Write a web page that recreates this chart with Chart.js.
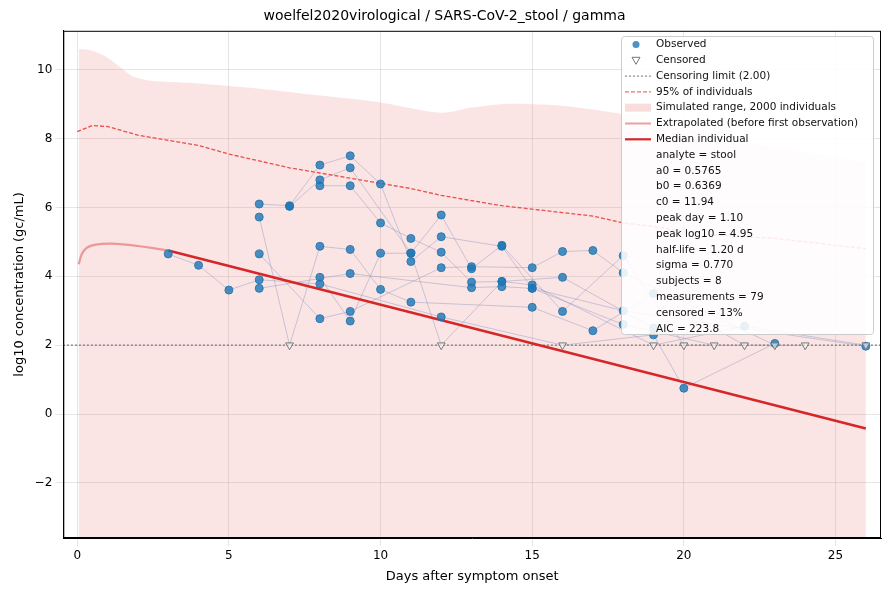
<!DOCTYPE html>
<html><head><meta charset="utf-8">
<script src="https://cdn.jsdelivr.net/npm/chart.js@4"></script>
<style>html,body{margin:0;padding:0;background:#fff}#w{width:889px;height:590px}</style>
</head><body><div id="w"><canvas id="c"></canvas></div>
<script>
const subjects = [
 [[3,4.65],[4,4.32],[5,3.6],[6,3.9],[8,3.78],[12,2.82],[16,2],[19,2.3],[20,0.75],[23,2.05]],
 [[6,6.1],[7,6.05],[8,7.23],[9,7.5],[10,6.68],[11,4.43],[12,5.15],[14,4.87],[15,3.65],[18,2.6],[21,2]],
 [[6,5.72],[7,2],[8,4.87],[9,4.78],[10,3.62],[11,3.25],[15,3.1],[17,2.42],[19,3.5],[22,2]],
 [[7,6.03],[8,6.8],[9,7.15],[11,4.67],[12,5.78],[13,4.22],[14,4.9],[16,2.98],[18,4.6],[20,2],[24,2]],
 [[8,6.63],[9,6.63],[10,5.55],[11,5.1],[12,4.7],[13,3.83],[14,3.85],[15,3.75],[19,2],[22,2.55],[26,2]],
 [[6,4.65],[8,2.77],[9,2.98],[12,4.25],[13,4.28],[15,4.25],[16,4.72],[17,4.75],[18,4.1],[23,2]],
 [[6,3.65],[9,4.08],[13,3.67],[14,3.7],[15,3.65],[18,3.0],[26,1.97]],
 [[8,3.97],[9,2.7],[10,4.67],[11,4.67],[12,2],[14,3.85],[16,3.97],[19,2.5]]
];
const censoredDays = [7,12,16,19,20,21,22,23,24,26];
const censorLimit = 2.0;
const p95 = [[0,8.2],[0.5,8.38],[1,8.35],[2,8.1],[3,7.95],[4,7.8],[5,7.55],[6,7.35],[7,7.15],[8,7.0],[9,6.85],[10,6.7],[11,6.55],[12,6.35],[13,6.2],[14,6.05],[15,5.95],[16,5.85],[17,5.75],[18,5.55],[19,5.45],[20,5.3],[21,5.2],[22,5.15],[23,5.1],[24,5.0],[25,4.9],[26,4.8]];
const simUpper = [[0.05,10.6],[0.5,10.55],[1,10.35],[2,9.75],[4,9.6],[6,9.45],[8,9.25],[10,9.05],[12,8.75],[13,8.9],[14,9.0],[15,9.0],[16,8.95],[18,8.7],[20,8.3],[22,7.9],[24,7.6],[26,7.3]];
const extrap = [[0.05,4.35],[0.15,4.65],[0.3,4.82],[0.5,4.9],[0.8,4.94],[1.1,4.95],[1.5,4.93],[2,4.88],[2.5,4.82],[3,4.75]];
const median = [[3,4.75],[26,-0.42]];
const legendStats = ["analyte = stool","a0 = 0.5765","b0 = 0.6369","c0 = 11.94","peak day = 1.10","peak log10 = 4.95","half-life = 1.20 d","sigma = 0.770","subjects = 8","measurements = 79","censored = 13%","AIC = 223.8"];

const pt = a => a.map(([x,y])=>({x,y}));
const ds = [];
ds.push({data:pt(simUpper),borderWidth:0,pointRadius:0,backgroundColor:'rgba(230,120,120,0.2)',fill:'start',tension:0.3,order:10});
subjects.forEach(s=>ds.push({data:pt(s),borderColor:'rgba(110,130,180,0.35)',borderWidth:1,pointRadius:0,fill:false,order:8}));
ds.push({data:[{x:-1,y:censorLimit},{x:27,y:censorLimit}],borderColor:'#777',borderWidth:1.3,borderDash:[2,2],pointRadius:0,order:7});
ds.push({data:pt(p95),borderColor:'#e8504a',borderWidth:1.3,borderDash:[4,2],pointRadius:0,order:6});
ds.push({data:pt(extrap),borderColor:'rgba(230,120,120,0.7)',borderWidth:2.2,pointRadius:0,tension:0.4,order:5});
ds.push({data:pt(median),borderColor:'#d62728',borderWidth:2.5,pointRadius:0,order:4});
const obs=[];subjects.forEach(s=>s.forEach(([x,y])=>{ if(!(y===censorLimit&&censoredDays.includes(x))) obs.push({x,y});}));
ds.push({type:'scatter',data:obs,backgroundColor:'rgba(31,119,180,0.8)',borderColor:'rgba(31,119,180,0.9)',pointRadius:4,showLine:false,order:2});
ds.push({type:'scatter',data:censoredDays.map(d=>({x:d,y:censorLimit})),pointStyle:'triangle',rotation:180,backgroundColor:'rgba(255,255,255,0.6)',borderColor:'#777',borderWidth:1,pointRadius:4.5,showLine:false,order:1});

const legendPlugin={id:'lg',afterDraw(ch){
 const c=ch.ctx,a=ch.chartArea;
 c.save();c.strokeStyle='#000';c.lineWidth=1;c.strokeRect(a.left+0.5,a.top+0.5,a.right-a.left-1,a.bottom-a.top-1);
 const x=621,y=36,w=252,h=298;
 c.fillStyle='rgba(255,255,255,0.88)';c.strokeStyle='#ccc';
 c.beginPath();c.roundRect(x+0.5,y+0.5,w,h,3);c.fill();c.stroke();
 c.font='10.5px "DejaVu Sans"';c.textBaseline='middle';c.fillStyle='#111';
 const rows=["Observed","Censored","Censoring limit (2.00)","95% of individuals","Simulated range, 2000 individuals","Extrapolated (before first observation)","Median individual"].concat(legendStats);
 rows.forEach((t,i)=>{const yy=y+8.5+i*15.8;const mx=x+15;
  if(i===0){c.fillStyle='rgba(31,119,180,0.8)';c.beginPath();c.arc(mx,yy,3.5,0,7);c.fill();}
  else if(i===1){c.strokeStyle='#777';c.beginPath();c.moveTo(mx-4,yy-3);c.lineTo(mx+4,yy-3);c.lineTo(mx,yy+4);c.closePath();c.stroke();}
  else if(i===2){c.strokeStyle='#777';c.setLineDash([2,2]);c.beginPath();c.moveTo(x+4,yy);c.lineTo(x+30,yy);c.stroke();c.setLineDash([]);}
  else if(i===3){c.strokeStyle='#e8504a';c.setLineDash([4,2]);c.beginPath();c.moveTo(x+4,yy);c.lineTo(x+30,yy);c.stroke();c.setLineDash([]);}
  else if(i===4){c.fillStyle='rgba(230,120,120,0.25)';c.fillRect(x+4,yy-4,26,8);}
  else if(i===5){c.strokeStyle='rgba(230,120,120,0.7)';c.lineWidth=2;c.beginPath();c.moveTo(x+4,yy);c.lineTo(x+30,yy);c.stroke();c.lineWidth=1;}
  else if(i===6){c.strokeStyle='#d62728';c.lineWidth=2.2;c.beginPath();c.moveTo(x+4,yy);c.lineTo(x+30,yy);c.stroke();c.lineWidth=1;}
  c.fillStyle='#111';c.fillText(t,x+35,yy);});
 c.restore();}};

new Chart(document.getElementById('c'),{type:'line',data:{datasets:ds},plugins:[legendPlugin],
options:{responsive:true,maintainAspectRatio:false,animation:false,
 layout:{padding:{left:8,right:8,top:0,bottom:0}},
 plugins:{legend:{display:false},tooltip:{enabled:false},
  title:{display:true,text:'woelfel2020virological / SARS-CoV-2_stool / gamma',color:'#000',font:{family:'DejaVu Sans',size:14,weight:'normal'},padding:{top:8,bottom:6}}},
 scales:{
  x:{type:'linear',min:-0.46,max:26.5,grid:{color:'rgba(0,0,0,0.1)'},border:{color:'#000'},
   ticks:{stepSize:5,color:'#000',font:{family:'DejaVu Sans',size:12},callback:v=>v%5===0?v:''},
   afterBuildTicks:a=>{a.ticks=[0,5,10,15,20,25].map(v=>({value:v}));},
   title:{display:true,text:'Days after symptom onset',color:'#000',font:{family:'DejaVu Sans',size:13},padding:{top:2,bottom:6}}},
  y:{min:-3.6,max:11.13,grid:{color:'rgba(0,0,0,0.1)'},border:{color:'#000'},
   afterBuildTicks:a=>{a.ticks=[-2,0,2,4,6,8,10].map(v=>({value:v}));},
   ticks:{color:'#000',font:{family:'DejaVu Sans',size:12},callback:v=>v<0?'\u2212'+(-v):v},
   title:{display:true,text:'log10 concentration (gc/mL)',color:'#000',font:{family:'DejaVu Sans',size:13}}}}}});
</script></body></html>
